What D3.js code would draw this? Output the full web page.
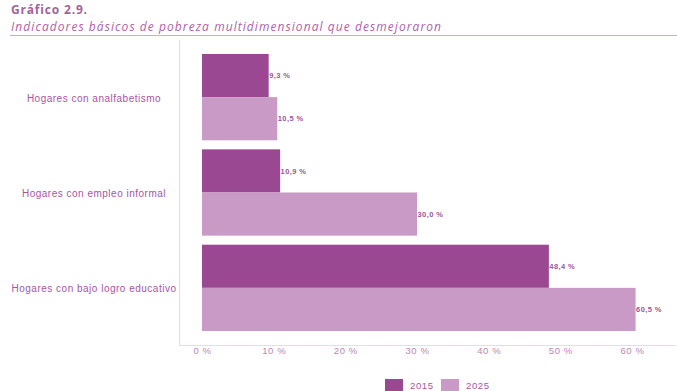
<!DOCTYPE html>
<html>
<head>
<meta charset="utf-8">
<script src="https://cdn.jsdelivr.net/npm/d3@7/dist/d3.min.js"></script>
<style>
  html, body { margin: 0; padding: 0; background: #fff; }
  svg { display: block; font-family: "Liberation Sans", Arial, sans-serif; }
</style>
</head>
<body>
<svg id="chart" width="677" height="391"></svg>
<script>
// Indicadores y valores (%)
const categories = [
  "Hogares con analfabetismo",
  "Hogares con empleo informal",
  "Hogares con bajo logro educativo"
];
const years = ["2015", "2025"];
const values2015 = [9.3, 10.9, 48.4];
const values2025 = [10.5, 30.0, 60.5];
const xTicks = [0, 10, 20, 30, 40, 50, 60];

const colors = { "2015": "#9b4892", "2025": "#c99ac6" };

const svg = d3.select("#chart");

// Ajusta el espaciado entre letras para que el texto ocupe el ancho dado
function fitWidth(sel, width) {
  sel.each(function () {
    const n = this.getNumberOfChars();
    const w = this.getComputedTextLength();
    if (n > 1) d3.select(this).attr("letter-spacing", (width - w) / (n - 1));
  });
}

// Encabezado
svg.append("text")
  .attr("x", 11).attr("y", 14)
  .attr("font-family", "'Open Sans', sans-serif")
  .attr("font-size", 12).attr("font-weight", "bold")
  .attr("fill", "#a0649a")
  .text("Gráfico 2.9.")
  .call(fitWidth, 76);
svg.append("text")
  .attr("x", 11).attr("y", 31)
  .attr("font-family", "'Open Sans', sans-serif")
  .attr("font-size", 12).attr("font-style", "italic")
  .attr("fill", "#b060a8")
  .text("Indicadores básicos de pobreza multidimensional que desmejoraron")
  .call(fitWidth, 430);
svg.append("line")
  .attr("x1", 10).attr("x2", 677).attr("y1", 35.5).attr("y2", 35.5)
  .attr("stroke", "#d9a6d4").attr("stroke-width", 1);

// Escalas
const x = d3.scaleLinear().domain([0, 60]).range([202, 632]);
const y = d3.scaleBand().domain(categories).range([54, 331])
  .paddingInner(0.095).paddingOuter(0);
const ySub = d3.scaleBand().domain(years).range([0, y.bandwidth()]);

// Marco del área de trazado
svg.append("line")
  .attr("x1", 179.5).attr("x2", 179.5).attr("y1", 40).attr("y2", 345)
  .attr("stroke", "#f0d8ec").attr("stroke-width", 1.2);
svg.append("line")
  .attr("x1", 179).attr("x2", 676).attr("y1", 345.5).attr("y2", 345.5)
  .attr("stroke", "#f0d8ec").attr("stroke-width", 1.2);

// Eje X
const xAxis = svg.append("g")
  .attr("transform", "translate(0,345)")
  .call(d3.axisBottom(x).tickValues(xTicks).tickSize(0).tickPadding(2)
    .tickFormat(d => d + " %"));
xAxis.select(".domain").remove();
xAxis.selectAll("text")
  .attr("font-family", "'Liberation Sans', Arial, sans-serif")
  .attr("font-size", 9.5).attr("letter-spacing", 0.6)
  .attr("fill", "#b886b4");

// Etiquetas de categoría
svg.append("g").selectAll("text")
  .data(categories).join("text")
  .attr("x", 94)
  .attr("y", d => y(d) + y.bandwidth() / 2 + 1)
  .attr("dy", "0.35em")
  .attr("text-anchor", "middle")
  .attr("font-size", 10).attr("letter-spacing", 0.5)
  .attr("fill", "#a8559f")
  .text(d => d);

// Barras
const rows = categories.map((c, i) => ({
  cat: c,
  items: [
    { year: "2015", value: values2015[i] },
    { year: "2025", value: values2025[i] }
  ]
}));

const groups = svg.append("g").selectAll("g")
  .data(rows).join("g")
  .attr("transform", d => `translate(0,${y(d.cat)})`);

groups.selectAll("rect")
  .data(d => d.items).join("rect")
  .attr("x", x(0))
  .attr("y", d => ySub(d.year))
  .attr("width", d => x(d.value) - x(0))
  .attr("height", ySub.bandwidth())
  .attr("fill", d => colors[d.year]);

groups.selectAll("text")
  .data(d => d.items).join("text")
  .attr("x", d => x(d.value) + 0.5)
  .attr("y", d => ySub(d.year) + ySub.bandwidth() / 2)
  .attr("dy", "0.35em")
  .attr("font-size", 7.5).attr("font-weight", "bold")
  .attr("letter-spacing", 0.4)
  .attr("fill", "#a0559a")
  .text(d => d.value.toFixed(1).replace(".", ",") + " %");

// Leyenda
const legend = svg.append("g");
const legendX = [385, 441];
years.forEach((yr, i) => {
  legend.append("rect")
    .attr("x", legendX[i]).attr("y", 379)
    .attr("width", 18).attr("height", 12)
    .attr("fill", colors[yr]);
  legend.append("text")
    .attr("x", legendX[i] + 25).attr("y", 385.5)
    .attr("dy", "0.35em")
    .attr("font-size", 9.5).attr("letter-spacing", 0.6)
    .attr("fill", "#a8559f")
    .text(yr);
});
</script>
</body>
</html>
